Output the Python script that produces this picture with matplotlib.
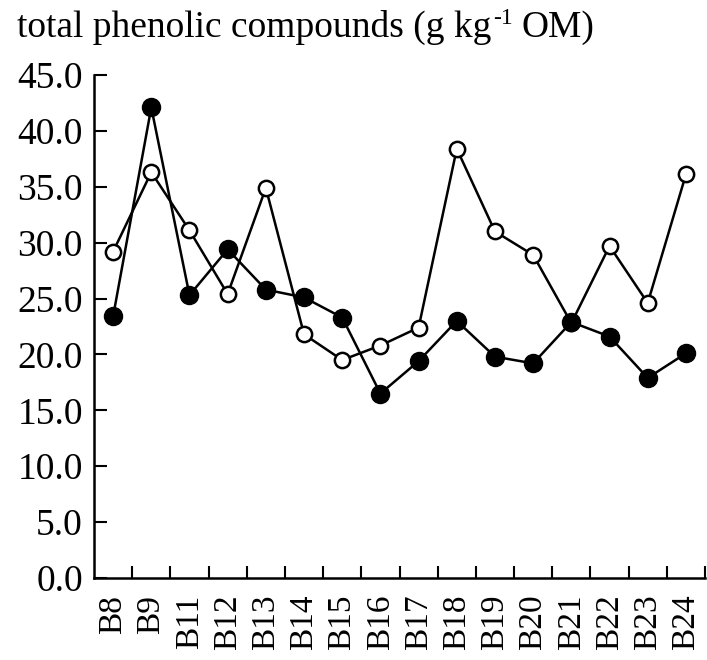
import matplotlib
matplotlib.use('Agg')
import matplotlib.pyplot as plt
import numpy as np

plt.rcParams['font.family'] = 'Liberation Serif'

sites = ['B8', 'B9', 'B11', 'B12', 'B13', 'B14', 'B15', 'B16',
         'B17', 'B18', 'B19', 'B20', 'B21', 'B22', 'B23', 'B24']
filled_vals = [23.4, 42.1, 25.3, 29.4, 25.8, 25.1, 23.3, 16.5,
               19.4, 23.0, 19.8, 19.2, 22.9, 21.6, 17.9, 20.1]
open_vals = [29.2, 36.3, 31.1, 25.4, 34.9, 21.8, 19.5, 20.8,
             22.4, 38.4, 31.0, 28.9, 22.8, 29.7, 24.6, 36.1]
y_ticks = [0, 5, 10, 15, 20, 25, 30, 35, 40, 45]

fig = plt.figure(figsize=(7.07, 6.6), dpi=100)
ax = fig.add_axes([94/707, 1 - 578/660, 611/707, (578 - 75)/660])

x = np.arange(len(sites))
ax.plot(x, open_vals, color='black', linewidth=1.8, marker='o', markersize=11,
        markerfacecolor='white', markeredgecolor='black', markeredgewidth=1.8, zorder=3)
ax.plot(x, filled_vals, color='black', linewidth=1.8, marker='o', markersize=13,
        markerfacecolor='black', markeredgecolor='black', zorder=4)

ax.set_xlim(-0.5, len(sites) - 0.5)
ax.set_ylim(0, 45)
ax.spines['top'].set_visible(False)
ax.spines['right'].set_visible(False)
ax.spines['left'].set_linewidth(1.8)
ax.spines['bottom'].set_linewidth(1.8)

ax.set_yticks(y_ticks)
ax.set_yticklabels(['%.1f' % v for v in y_ticks], fontsize=27)
ax.tick_params(axis='y', direction='in', length=9, width=1.5, pad=8)

# category ticks sit between sites, labels sit at the sites
ax.set_xticks(np.arange(len(sites)) + 0.5)
ax.set_xticklabels([])
ax.tick_params(axis='x', which='major', direction='in', length=9, width=1.5)
ax.set_xticks(x, minor=True)
ax.set_xticklabels(sites, minor=True, rotation=90, fontsize=24)
ax.tick_params(axis='x', which='minor', length=0, pad=12)

# title in pieces so the superscript keeps a plain hyphen
fig.canvas.draw()
r = fig.canvas.get_renderer()
x0, yb = 17, 660 - 37
t1 = fig.text(x0/707, yb/660, 'total phenolic compounds (g kg',
              fontsize=27, ha='left', va='baseline')
w1 = t1.get_window_extent(r).x1
t2 = fig.text((w1 + 2)/707, (yb + 13)/660, '-1',
              fontsize=17, ha='left', va='baseline')
w2 = t2.get_window_extent(r).x1
fig.text((w2 + 8)/707, yb/660, 'OM)', fontsize=27, ha='left', va='baseline')

fig.savefig('out.png', dpi=100)
